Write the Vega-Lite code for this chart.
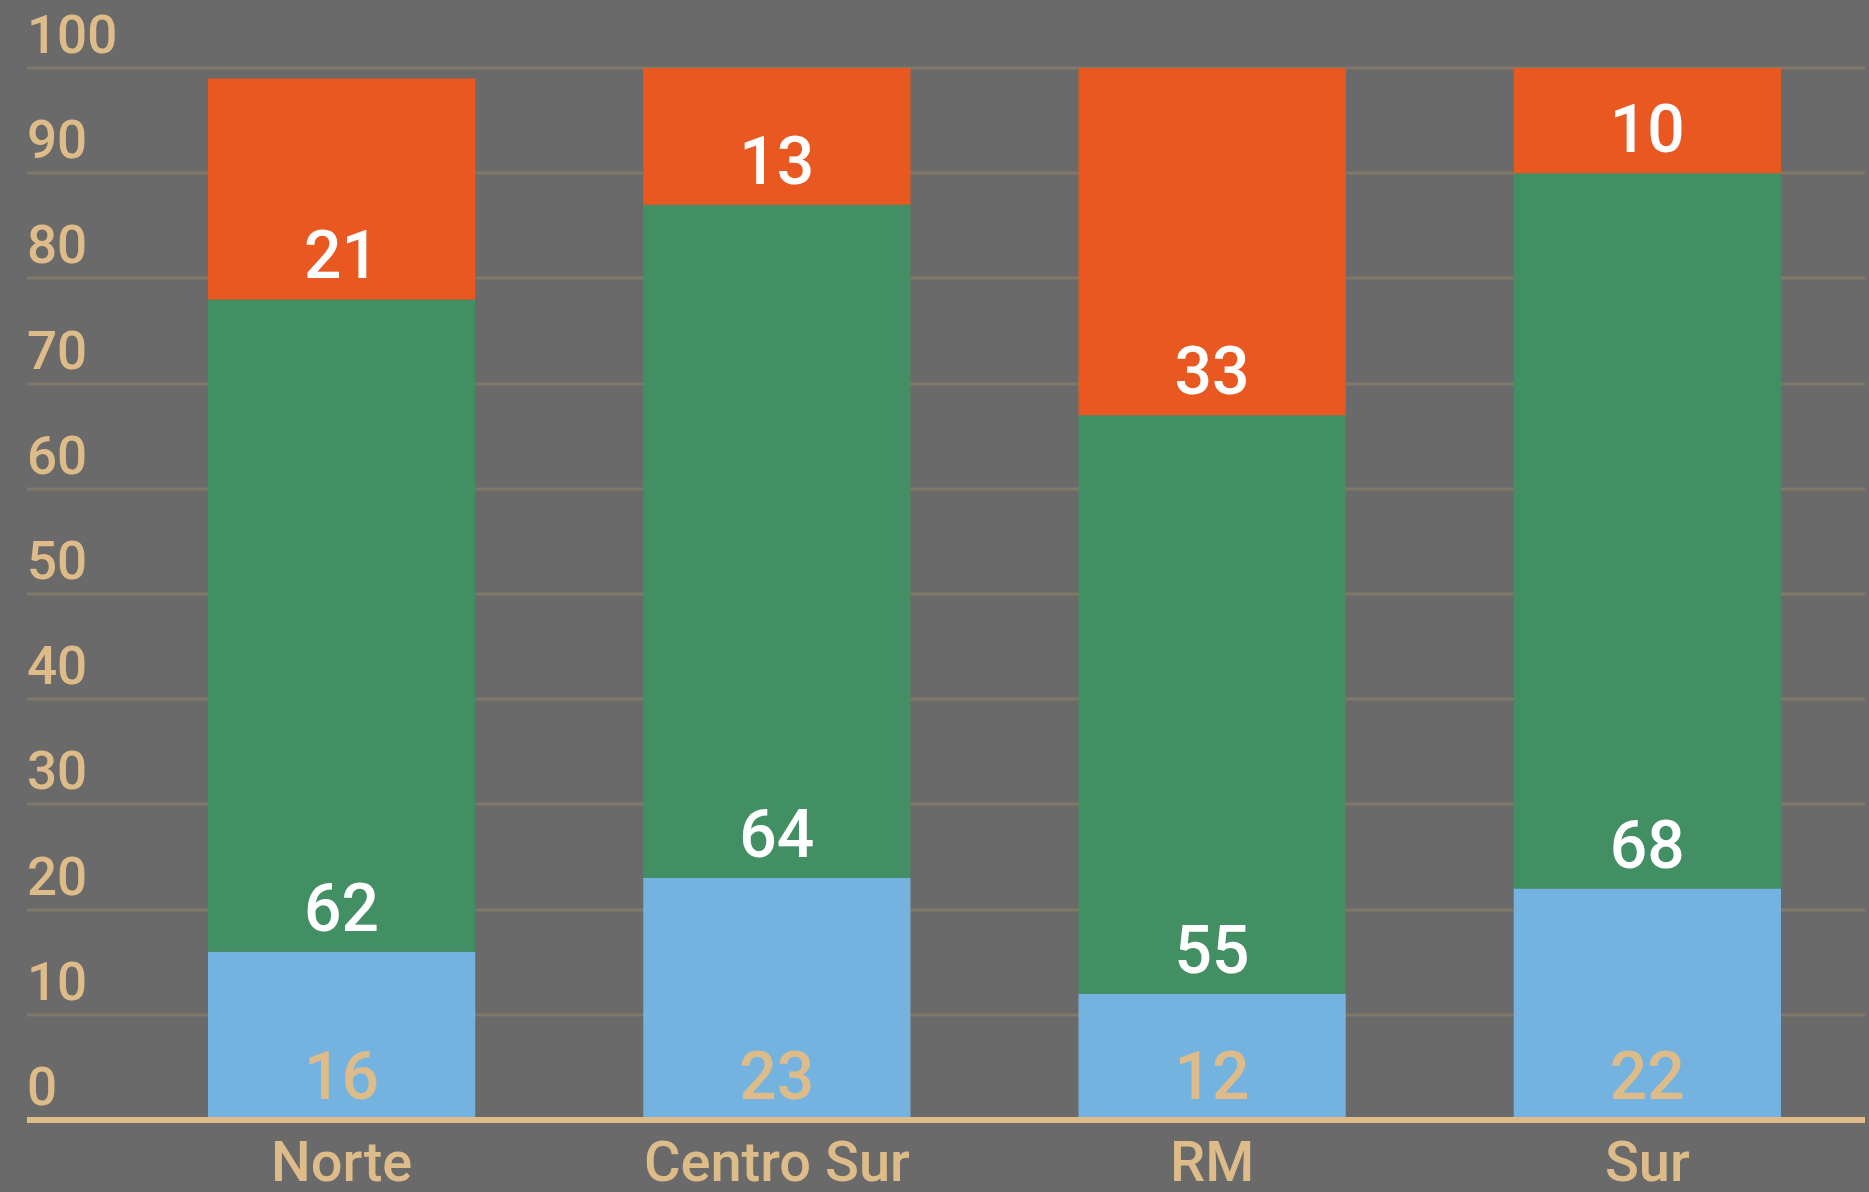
{
  "$schema": "https://vega.github.io/schema/vega-lite/v6.json",
  "autosize": "none",
  "width": 1741,
  "height": 1052,
  "padding": {"left": 124, "top": 68, "right": 4, "bottom": 72},
  "background": "#6A6A6A",
  "config": {
    "view": {"stroke": null},
    "font": "Roboto"
  },
  "data": {
    "values": [
      {"region": "Norte", "serie": "S1", "ord": 1, "value": 16},
      {"region": "Norte", "serie": "S2", "ord": 2, "value": 62},
      {"region": "Norte", "serie": "S3", "ord": 3, "value": 21},
      {"region": "Centro Sur", "serie": "S1", "ord": 1, "value": 23},
      {"region": "Centro Sur", "serie": "S2", "ord": 2, "value": 64},
      {"region": "Centro Sur", "serie": "S3", "ord": 3, "value": 13},
      {"region": "RM", "serie": "S1", "ord": 1, "value": 12},
      {"region": "RM", "serie": "S2", "ord": 2, "value": 55},
      {"region": "RM", "serie": "S3", "ord": 3, "value": 33},
      {"region": "Sur", "serie": "S1", "ord": 1, "value": 22},
      {"region": "Sur", "serie": "S2", "ord": 2, "value": 68},
      {"region": "Sur", "serie": "S3", "ord": 3, "value": 10}
    ]
  },
  "transform": [
    {"stack": "value", "groupby": ["region"], "sort": [{"field": "ord"}], "as": ["v0", "v1"]}
  ],
  "encoding": {
    "x": {
      "field": "region",
      "type": "nominal",
      "sort": ["Norte", "Centro Sur", "RM", "Sur"],
      "scale": {"paddingInner": 0.386, "paddingOuter": 0.193},
      "axis": {
        "title": null,
        "domain": false,
        "ticks": false,
        "tickSize": 0,
        "labelAngle": 0,
        "labelPadding": 60,
        "labelLimit": 0,
        "labelBaseline": "alphabetic",
        "labelFont": "Roboto",
        "labelFontSize": 56,
        "labelFontWeight": 500,
        "labelColor": "#DEBC89"
      }
    }
  },
  "layer": [
    {
      "mark": {"type": "bar"},
      "encoding": {
        "y": {
          "field": "v0",
          "type": "quantitative",
          "scale": {"domain": [0, 100], "nice": false},
          "axis": {
            "title": null,
            "domain": false,
            "translate": 0,
            "values": [0, 10, 20, 30, 40, 50, 60, 70, 80, 90, 100],
            "grid": true,
            "gridColor": "#807869",
            "gridWidth": 3,
            "gridOpacity": 1,
            "ticks": true,
            "tickSize": 97,
            "tickColor": {"condition": {"test": "datum.value === 0", "value": "#DEBC89"}, "value": "#807869"},
            "tickWidth": {"condition": {"test": "datum.value === 0", "value": 6}, "value": 3},
            "labelPadding": 0,
            "labelAlign": "left",
            "labelBaseline": "alphabetic",
            "labelOffset": -15,
            "labelFont": "Roboto",
            "labelFontSize": 53,
            "labelFontWeight": 500,
            "labelColor": "#DEBC89"
          }
        },
        "y2": {"field": "v1"},
        "color": {
          "field": "serie",
          "type": "nominal",
          "scale": {"domain": ["S1", "S2", "S3"], "range": ["#74B3DF", "#428F64", "#E85820"]},
          "legend": null
        }
      }
    },
    {
      "mark": {"type": "text", "font": "Roboto", "fontSize": 66, "fontWeight": 500, "baseline": "alphabetic", "align": "center", "dy": -21},
      "encoding": {
        "y": {"field": "v0", "type": "quantitative"},
        "text": {"field": "value", "type": "quantitative"},
        "color": {"condition": {"test": "datum.serie === 'S1'", "value": "#DEBC89"}, "value": "#FFFFFF"}
      }
    },
    {
      "mark": {"type": "rule", "color": "#DEBC89", "strokeWidth": 6},
      "encoding": {
        "y": {"datum": 0, "type": "quantitative"},
        "x": {"value": 0},
        "x2": {"value": 1741}
      }
    }
  ]
}
